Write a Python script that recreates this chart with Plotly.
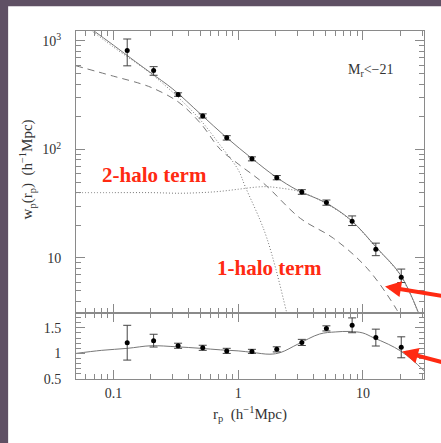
import plotly.graph_objects as go

# ---------------- data ----------------
rp = [0.129, 0.21, 0.33, 0.52, 0.81, 1.29, 2.04, 3.24, 5.1, 8.2, 12.7, 20.3]
wp = [816, 535, 321, 204, 128, 82, 55, 40.6, 32.4, 21.8, 12.0, 6.65]
wp_err_hi = [227, 45, 12, 9, 6, 3.5, 2.5, 2.0, 1.8, 2.6, 1.7, 1.25]
wp_err_lo = [226, 52, 12, 9, 6, 3.5, 2.5, 2.0, 1.8, 1.9, 1.5, 0.71]

ratio = [1.21, 1.25, 1.15, 1.11, 1.05, 1.04, 1.08, 1.215, 1.49, 1.55, 1.31, 1.12]
ratio_err = [0.34, 0.125, 0.05, 0.05, 0.05, 0.04, 0.05, 0.06, 0.05, 0.145, 0.165, 0.205]

# total HOD model (solid)
tot_x = [0.05, 0.07, 0.1, 0.15, 0.2, 0.3, 0.5, 0.8, 1.3, 2.0, 3.0, 5.0, 8.0, 13.0, 20.0, 28.0]
tot_w = [1650, 1236, 915, 646, 507, 360, 212, 130, 82, 56, 42, 32.4, 22.4, 12.3, 7.0, 3.1]

# dashed curve
dm_x = [0.05, 0.1, 0.164, 0.21, 0.33, 0.5, 0.72, 1.0, 1.6, 3.15, 5.8, 10.8, 18.7, 22.0]
dm_w = [591, 474, 405, 365, 275, 174, 100, 73.6, 48.8, 23.2, 15.2, 8.05, 3.33, 2.3]

# 1-halo term (dotted)
h1_x = [0.05, 0.1, 0.2, 0.33, 0.5, 0.72, 1.0, 1.14, 1.5, 1.7, 2.0, 2.45, 2.7]
h1_w = [1600, 880, 500, 303, 186, 109, 65, 45.4, 22.3, 15.2, 8.0, 3.14, 2.0]

# 2-halo term (dotted)
h2_x = [0.05, 0.1, 0.2, 0.34, 0.5, 0.7, 1.0, 1.4, 1.7, 2.2, 3.15, 5.0, 8.0, 13.0, 20.0, 28.0]
h2_w = [40, 40, 40, 39.5, 40, 41, 43, 45, 45.4, 44, 40.8, 32, 22.2, 12.2, 6.9, 3.05]

# ratio model (solid, lower panel)
rm_x = [0.05, 0.08, 0.13, 0.2, 0.32, 0.5, 0.72, 1.0, 1.3, 1.8, 2.2, 3.0, 4.5, 6.0, 7.9, 10.0, 12.1, 16.0, 20.0, 25.0, 31.0]
rm_y = [1.0, 1.06, 1.10, 1.15, 1.13, 1.10, 1.07, 1.05, 1.02, 0.985, 1.02, 1.18, 1.38, 1.42, 1.43, 1.40, 1.31, 1.18, 1.05, 0.87, 0.66]

x_tickvals = [0.1, 1, 10]
x_ticktext = ["0.1", "1", "10"]
x_minor = [0.06, 0.07, 0.08, 0.09, 0.2, 0.3, 0.4, 0.5, 0.6, 0.7, 0.8, 0.9,
           2, 3, 4, 5, 6, 7, 8, 9, 20, 30]
y_tickvals = [10, 100, 1000]
y_ticktext = ["10", "10<sup>2</sup>", "10<sup>3</sup>"]
y_minor = [4, 5, 6, 7, 8, 9, 20, 30, 40, 50, 60, 70, 80, 90, 200, 300, 400, 500, 600, 700, 800, 900]
r_tickvals = [0.5, 1, 1.5]
r_ticktext = ["0.5", "1", "1.5"]
r_minor = [0.6, 0.7, 0.8, 0.9, 1.1, 1.2, 1.3, 1.4, 1.6, 1.7]

# ---------------- styling ----------------
GREY = "#777777"
AXC = "#8a8a8a"
RED = "#ff2a12"
TXT = "#333333"
SERIF = "Liberation Serif"

fig = go.Figure()

fig.add_trace(go.Scatter(x=tot_x, y=tot_w, mode="lines", line=dict(color=GREY, width=1, shape="spline"),
                         xaxis="x", yaxis="y"))
fig.add_trace(go.Scatter(x=dm_x, y=dm_w, mode="lines", line=dict(color=GREY, width=1, dash="7px,5px", shape="spline"),
                         xaxis="x", yaxis="y"))
fig.add_trace(go.Scatter(x=h1_x, y=h1_w, mode="lines", line=dict(color=GREY, width=1, dash="1px,2px", shape="spline"),
                         xaxis="x", yaxis="y"))
fig.add_trace(go.Scatter(x=h2_x, y=h2_w, mode="lines", line=dict(color=GREY, width=1, dash="1px,2px", shape="spline"),
                         xaxis="x", yaxis="y"))
fig.add_trace(go.Scatter(x=rp, y=wp, mode="markers", marker=dict(color="black", size=5),
                         error_y=dict(type="data", symmetric=False, array=wp_err_hi, arrayminus=wp_err_lo,
                                      color="#444444", thickness=1, width=4),
                         xaxis="x", yaxis="y"))

fig.add_trace(go.Scatter(x=rm_x, y=rm_y, mode="lines", line=dict(color=GREY, width=1, shape="spline"),
                         xaxis="x2", yaxis="y2"))
fig.add_trace(go.Scatter(x=rp, y=ratio, mode="markers", marker=dict(color="black", size=5),
                         error_y=dict(type="data", array=ratio_err, color="#444444", thickness=1, width=4),
                         xaxis="x2", yaxis="y2"))

# empty traces so the overlay axes carrying the longer major y ticks are created
fig.add_trace(go.Scatter(x=[], y=[], xaxis="x", yaxis="y3", showlegend=False))
fig.add_trace(go.Scatter(x=[], y=[], xaxis="x2", yaxis="y4", showlegend=False))

common_axis = dict(showline=True, linecolor=AXC, linewidth=1, mirror="ticks", ticks="inside",
                   tickcolor=AXC, ticklen=9, tickwidth=1, showgrid=False, zeroline=False,
                   tickmode="array", tickfont=dict(family=SERIF, size=14, color=TXT))
overlay_axis = dict(showline=False, mirror="ticks", ticks="inside", tickcolor=AXC, ticklen=9, tickwidth=1,
                    showgrid=False, zeroline=False, tickmode="array", showticklabels=False)


def minor(vals):
    return dict(tickmode="array", tickvals=vals, ticks="inside", ticklen=5, tickcolor=AXC,
                tickwidth=1, showgrid=False)


XR = [-1.30, 1.49]
YR = [0.497, 3.092]
RR = [0.5, 1.8]
y_common = dict(common_axis, ticklen=5)
fig.update_layout(
    width=441, height=443,
    margin=dict(l=76, r=17, t=31, b=64),
    paper_bgcolor="#5f5064", plot_bgcolor="white",
    showlegend=False,
    xaxis=dict(type="log", range=XR, anchor="y", domain=[0, 1], tickvals=x_tickvals, ticktext=x_ticktext,
               showticklabels=False, minor=minor(x_minor), **common_axis),
    yaxis=dict(type="log", range=YR, anchor="x", domain=[0.191, 1], tickvals=y_tickvals + y_minor,
               ticktext=y_ticktext + [""] * len(y_minor), ticklabelstandoff=11, **y_common),
    xaxis2=dict(type="log", range=XR, anchor="y2", domain=[0, 1], matches="x", tickvals=x_tickvals,
                ticktext=x_ticktext, minor=minor(x_minor), ticklabelstandoff=1, **common_axis),
    yaxis2=dict(range=RR, anchor="x2", domain=[0, 0.191], tickvals=r_tickvals + r_minor,
                ticktext=r_ticktext + [""] * len(r_minor), ticklabelstandoff=11, **y_common),
    yaxis3=dict(type="log", range=YR, overlaying="y", anchor="x", tickvals=y_tickvals, **overlay_axis),
    yaxis4=dict(range=RR, overlaying="y2", anchor="x2", tickvals=r_tickvals, **overlay_axis),
    shapes=[dict(type="rect", xref="paper", yref="paper", x0=-0.195, x1=1.1, y0=-0.25, y1=1.0709,
                 fillcolor="white", line=dict(width=0), layer="below")],
)

ann = [
    dict(text="<b>2-halo term</b>", x=0.2256, y=0.586, font=dict(family=SERIF, size=21, color=RED)),
    dict(text="<b>1-halo term</b>", x=0.555, y=0.3184, font=dict(family=SERIF, size=21, color=RED)),
    dict(text="M<sub>r</sub>&lt;−21", x=0.848, y=0.887, font=dict(family=SERIF, size=14, color=TXT)),
    dict(text="w<sub>p</sub>(r<sub>p</sub>)  (h<sup>−1</sup>Mpc)", x=-0.14, y=0.603, textangle=-90,
         font=dict(family=SERIF, size=15, color=TXT)),
    dict(text="r<sub>p</sub>  (h<sup>−1</sup>Mpc)", x=0.5, y=-0.1, font=dict(family=SERIF, size=15, color=TXT)),
]
for a in ann:
    fig.add_annotation(xref="paper", yref="paper", showarrow=False, xanchor="center", yanchor="middle", **a)

# arrows: tip (x, y) and tail (ax, ay) in axis-domain coordinates
for (yr, x, y, ax, ay) in [("y domain", 0.888, 0.0922, 1.063, 0.0567), ("y2 domain", 0.937, 0.414, 1.063, 0.237)]:
    fig.add_annotation(xref="x domain", yref=yr, axref="x domain", ayref=yr, x=x, y=y, ax=ax, ay=ay,
                       text="", showarrow=True, arrowhead=2, arrowsize=0.8, arrowwidth=4,
                       arrowcolor=RED, standoff=0)

fig.write_html("out.html", config={"displayModeBar": False},
               post_script="document.body.style.margin='0';")
